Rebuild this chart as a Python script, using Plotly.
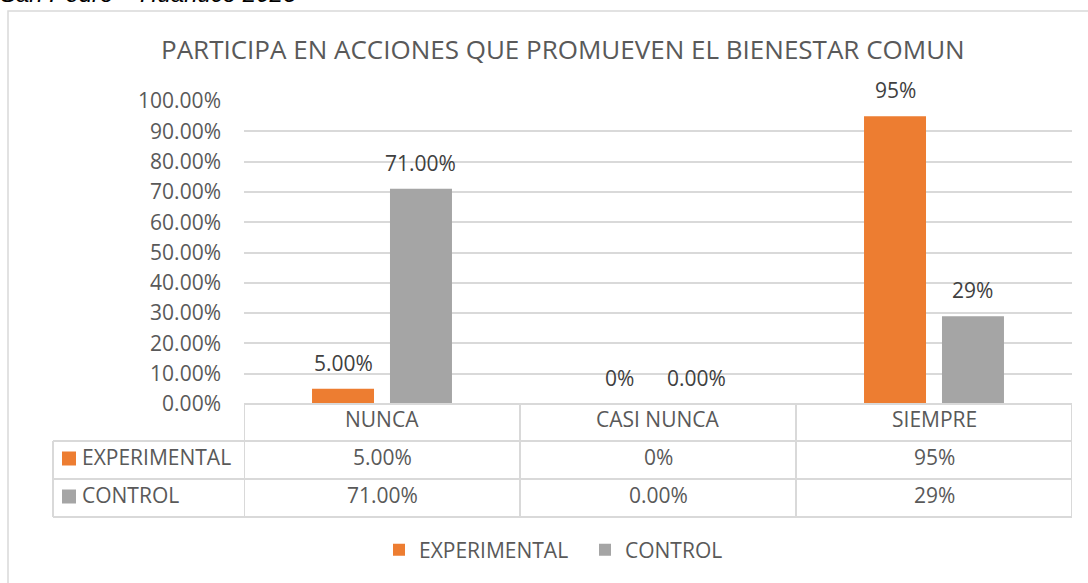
import plotly.graph_objects as go

categories = ["NUNCA", "CASI NUNCA", "SIEMPRE"]
experimental = [0.05, 0.0, 0.95]
control = [0.71, 0.0, 0.29]
experimental_labels = ["5.00%", "0%", "95%"]
control_labels = ["71.00%", "0.00%", "29%"]
series_names = ["EXPERIMENTAL", "CONTROL"]
y_ticks = [i / 10 for i in range(11)]

ORANGE = "#ED7D31"
GRAY = "#A5A5A5"
TXT = "#595959"
LINE = "#D9D9D9"
FONT = "Open Sans, sans-serif"
FS = 21

W, H = 1088, 583
L, R, T, B = 244, 1072, 101, 404  # plot area pixels
BARGAP, BARGROUPGAP = 0.435, 0.205


def px(xp):
    return (xp - L) / (R - L)


def py(yp):
    return (B - yp) / (B - T)


fig = go.Figure()
fig.add_trace(go.Bar(x=categories, y=experimental, name=series_names[0],
                     marker_color=ORANGE, marker_line_width=0))
fig.add_trace(go.Bar(x=categories, y=control, name=series_names[1],
                     marker_color=GRAY, marker_line_width=0))

shapes = []
annotations = []

# data labels above the bars (group offset derived from bar gaps)
slot = (1 - BARGAP) / 2
for k, (vals, labs) in enumerate([(experimental, experimental_labels),
                                  (control, control_labels)]):
    off = (k - 0.5) * slot
    for i, (v, lab) in enumerate(zip(vals, labs)):
        annotations.append(dict(x=i + off, xref="x", y=v, yref="y",
                                yshift=26, xanchor="center", yanchor="middle",
                                text=lab, showarrow=False,
                                font=dict(size=FS, color="#404040", family=FONT)))

# outer chart border
shapes.append(dict(type="rect", xref="paper", yref="paper",
                   x0=px(8), x1=px(1100), y0=py(600), y1=py(11),
                   line=dict(color=LINE, width=1.5), fillcolor="rgba(0,0,0,0)",
                   layer="below"))

# data table grid
rows_y = [404, 441, 479, 517]
n = len(categories)
for yy in rows_y:
    shapes.append(dict(type="line", xref="x", yref="paper",
                       x0=-0.5, x1=n - 0.5, y0=py(yy), y1=py(yy),
                       line=dict(color=LINE, width=2)))
for yy in rows_y[1:]:
    shapes.append(dict(type="line", xref="paper", yref="paper",
                       x0=px(53), x1=0, y0=py(yy), y1=py(yy),
                       line=dict(color=LINE, width=2)))
shapes.append(dict(type="line", xref="paper", yref="paper",
                   x0=px(53), x1=px(53), y0=py(441), y1=py(517),
                   line=dict(color=LINE, width=2)))
for i in range(n + 1):
    shapes.append(dict(type="line", xref="x", yref="paper",
                       x0=i - 0.5, x1=i - 0.5, y0=py(404), y1=py(517),
                       line=dict(color=LINE, width=2)))

# header row
for c in categories:
    annotations.append(dict(x=c, xref="x", y=py(419.5), yref="paper",
                            xanchor="center", yanchor="middle",
                            text=c, showarrow=False,
                            font=dict(size=FS, color=TXT, family=FONT)))
# value rows
row_sets = [(experimental_labels, ORANGE, series_names[0], 457),
            (control_labels, GRAY, series_names[1], 495)]
for labels, col, name, yc in row_sets:
    for c, lab in zip(categories, labels):
        annotations.append(dict(x=c, xref="x", y=py(yc), yref="paper",
                                xanchor="center", yanchor="middle",
                                text=lab, showarrow=False,
                                font=dict(size=FS, color=TXT, family=FONT)))
    shapes.append(dict(type="rect", xref="paper", yref="paper",
                       x0=px(62), x1=px(76), y0=py(yc + 8.5), y1=py(yc - 5.5),
                       fillcolor=col, line=dict(width=0)))
    annotations.append(dict(x=px(80), xref="paper", y=py(yc), yref="paper",
                            text=name, showarrow=False,
                            xanchor="left", yanchor="middle",
                            font=dict(size=FS, color=TXT, family=FONT)))

# title
annotations.append(dict(x=px(563), xref="paper", y=py(49), yref="paper",
                        xanchor="center", yanchor="middle",
                        text="PARTICIPA EN ACCIONES QUE PROMUEVEN EL BIENESTAR COMUN",
                        showarrow=False,
                        font=dict(size=26, color=TXT, family=FONT)))
# cropped caption above chart
annotations.append(dict(x=px(-2), xref="paper", xanchor="left",
                        y=py(9), yref="paper", yanchor="bottom",
                        text="<i>San Pedro – Huánuco 2023</i>", showarrow=False,
                        font=dict(size=24, color="#000000",
                                  family="Liberation Sans, Arial, sans-serif")))

fig.update_layout(
    width=W, height=H,
    margin=dict(l=L, r=W - R, t=T, b=H - B, pad=0),
    paper_bgcolor="white", plot_bgcolor="white",
    barmode="group", bargap=BARGAP, bargroupgap=BARGROUPGAP,
    font=dict(family=FONT, color=TXT),
    shapes=shapes, annotations=annotations,
    showlegend=True,
    legend=dict(orientation="h", x=px(379), xanchor="left",
                y=py(550), yanchor="middle",
                font=dict(size=FS, color=TXT, family=FONT),
                entrywidth=161, entrywidthmode="pixels",
                itemwidth=30, tracegroupgap=0),
    xaxis=dict(range=[-0.5, n - 0.5], showticklabels=False, showgrid=False,
               zeroline=False, showline=False, fixedrange=True),
    yaxis=dict(range=[0, 1], tickvals=y_ticks, tickformat=".2%",
               showgrid=True, gridcolor=LINE, gridwidth=1.5,
               zeroline=False, showline=False, ticklabelstandoff=22,
               fixedrange=True,
               tickfont=dict(size=FS, color=TXT, family=FONT)),
)

fig.write_html("out.html", config={"displayModeBar": False},
               post_script="document.body.style.margin='0';document.body.style.overflow='hidden';")
